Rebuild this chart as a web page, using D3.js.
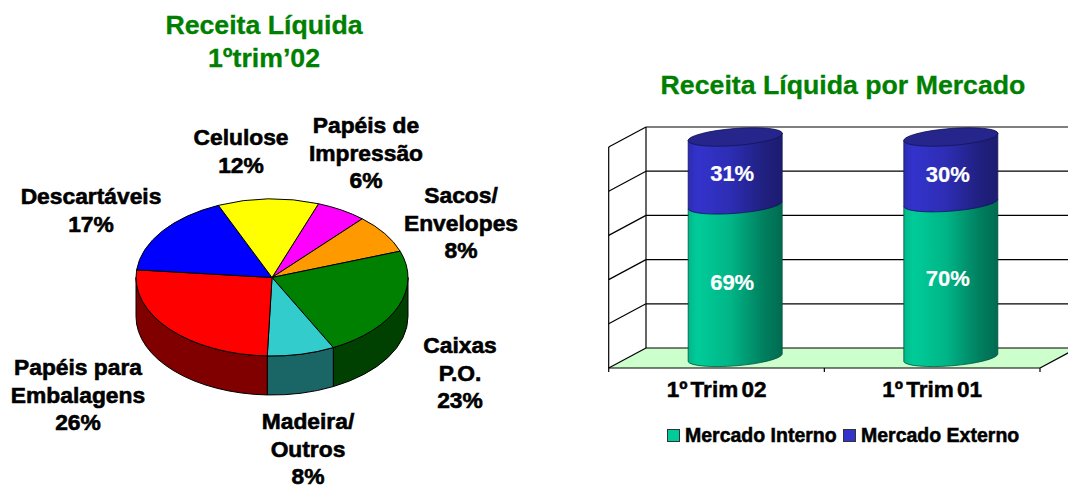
<!DOCTYPE html>
<html>
<head>
<meta charset="utf-8">
<script src="https://cdn.jsdelivr.net/npm/d3@7"></script>
<style>
  html, body { margin: 0; padding: 0; background: #fff; }
  svg { display: block; }
  text { font-family: "Liberation Sans", Arial, sans-serif; font-weight: bold; }
  .title { fill: #008000; font-size: 26.7px; text-anchor: middle; stroke: #008000; stroke-width: 0.3px; }
  .slice-label { fill: #000; font-size: 22.8px; text-anchor: middle; stroke: #000; stroke-width: 0.6px; }
  .value-label { fill: #fff; font-size: 22px; text-anchor: middle; stroke: #fff; stroke-width: 0.2px; }
  .cat-label { fill: #000; font-size: 22.5px; word-spacing: -3px; stroke: #000; stroke-width: 0.5px; }
  .legend-label { fill: #000; font-size: 19.5px; stroke: #000; stroke-width: 0.5px; }
</style>
</head>
<body>
<svg id="chart" width="1068" height="489"></svg>
<script>
// pie data, clockwise from the top right
const sliceNames = ["Papéis de|Impressão", "Sacos/|Envelopes", "Caixas|P.O.", "Madeira/|Outros", "Papéis para|Embalagens", "Descartáveis", "Celulose"];
const sliceValues = [6, 8, 23, 8, 26, 17, 12];
const sliceColors = ["#ff00ff", "#ff9900", "#008000", "#33cccc", "#ff0000", "#0000ff", "#ffff00"];
const sliceSides = ["#800080", "#804c00", "#004000", "#1a6666", "#800000", "#000080", "#808000"];

// bar data
const quarters = ["1º Trim 02", "1º Trim 01"];
const interno = [69, 70];
const externo = [31, 30];
const seriesNames = ["Mercado Interno", "Mercado Externo"];
const gridTicks = [0, 20, 40, 60, 80, 100];

const svg = d3.select("#chart");
const defs = svg.append("defs");

//Titles
svg.append("text").classed("title", true).attr("x", 264).attr("y", 34).text("Receita Líquida");
svg.append("text").classed("title", true).attr("x", 264).attr("y", 67).text("1ºtrim’02");
svg.append("text").classed("title", true).attr("x", 843).attr("y", 94).text("Receita Líquida por Mercado");

function drawPie() {
  const cx = 272, cy = 277.5, rx = 136, ry = 78.5, depth = 39;
  const start = (20 * Math.PI) / 180;
  const pie = d3.pie().sort(null).startAngle(start).endAngle(start + 2 * Math.PI);
  const arcs = pie(sliceValues);
  const px = (a) => cx + rx * Math.sin(a);
  const py = (a) => cy - ry * Math.cos(a);

  //Sides, only the front half of the disc shows
  arcs.forEach((d, i) => {
    const a0 = Math.max(d.startAngle, Math.PI / 2);
    const a1 = Math.min(d.endAngle, (3 * Math.PI) / 2);
    if (a1 <= a0) return;
    const p =
      `M${px(a0)},${py(a0)} A${rx},${ry} 0 0 1 ${px(a1)},${py(a1)} ` +
      `L${px(a1)},${py(a1) + depth} A${rx},${ry} 0 0 0 ${px(a0)},${py(a0) + depth} Z`;
    svg.append("path").attr("d", p).attr("fill", sliceSides[i]).attr("stroke", "#000").attr("stroke-width", 1);
  });

  //Top of the disc
  const arc = d3.arc().innerRadius(0).outerRadius(rx);
  svg
    .append("g")
    .attr("transform", `translate(${cx},${cy}) scale(1,${ry / rx})`)
    .selectAll("path")
    .data(arcs)
    .join("path")
    .attr("d", arc)
    .attr("fill", (d, i) => sliceColors[i])
    .attr("stroke", "#000")
    .attr("stroke-width", 1)
    .attr("vector-effect", "non-scaling-stroke");

  //Labels, x centre and first baseline for each slice
  const labelSpots = [[366, 133], [461, 203], [460, 353], [308, 429], [78, 375], [91, 204], [241, 145]];
  sliceNames.forEach((name, i) => {
    const lines = name.split("|").concat(sliceValues[i] + "%");
    svg
      .append("g")
      .selectAll("text")
      .data(lines)
      .join("text")
      .classed("slice-label", true)
      .attr("x", labelSpots[i][0])
      .attr("y", (d, j) => labelSpots[i][1] + j * 27.5)
      .text((d) => d);
  });
}

function addGradient(id, stops) {
  const g = defs.append("linearGradient").attr("id", id);
  stops.forEach((s) => g.append("stop").attr("offset", s[0]).attr("stop-color", s[1]));
}

function drawBars() {
  const xFront = 608.7, xEnd = 1040, dx = 37.3, dy = 20;
  const x = d3.scaleBand().domain(quarters).range([xFront, xEnd]);
  const y = d3.scaleLinear().domain([0, 100]).range([348, 127]);
  const floorY = y(0);
  const frontY = floorY + dy;

  //Floor
  svg
    .append("polygon")
    .attr("points", [[xFront, frontY], [xFront + dx, floorY], [xEnd + dx, floorY], [xEnd, frontY]].join(" "))
    .attr("fill", "#ccffcc");

  //Grid on the back and side walls
  const grid = svg.append("g").attr("stroke", "#000").attr("stroke-width", 1.2);
  gridTicks.forEach((t) => {
    grid.append("line").attr("x1", xFront + dx).attr("x2", xEnd + dx).attr("y1", y(t)).attr("y2", y(t));
    grid.append("line").attr("x1", xFront).attr("x2", xFront + dx).attr("y1", y(t) + dy).attr("y2", y(t));
  });
  grid.append("line").attr("x1", xFront + dx).attr("x2", xFront + dx).attr("y1", y(100)).attr("y2", floorY);
  grid.append("line").attr("x1", xFront).attr("x2", xFront).attr("y1", y(100) + dy).attr("y2", frontY + 4);
  grid.append("line").attr("x1", xFront).attr("x2", xEnd).attr("y1", frontY).attr("y2", frontY);
  grid.append("line").attr("x1", xEnd).attr("x2", xEnd + dx).attr("y1", frontY).attr("y2", floorY);
  grid.selectAll(".edge-tick")
    .data([x.bandwidth(), 2 * x.bandwidth()])
    .join("line")
    .attr("x1", (d) => xFront + d)
    .attr("x2", (d) => xFront + d)
    .attr("y1", frontY)
    .attr("y2", frontY + 4);

  //Category labels
  const axis = svg
    .append("g")
    .attr("transform", `translate(0,${frontY + 7})`)
    .call(d3.axisBottom(x).tickSize(0));
  axis.select(".domain").remove();
  axis.selectAll("text").attr("class", "cat-label").attr("dy", "0.85em");
  axis.attr("font-size", null).attr("font-family", null);

  addGradient("teal", [[0, "#00b88a"], [0.1, "#00cc99"], [0.45, "#00b587"], [0.8, "#00805f"], [1, "#006b50"]]);
  addGradient("blue", [[0, "#2c2cb4"], [0.1, "#3333cc"], [0.45, "#2d2db4"], [0.8, "#202080"], [1, "#1c1c70"]]);

  const rx = 47.3, ry = 8.5, rot = -4.5, tilt = 3.75, halfW = 47;
  // hand nudges of the value labels, they don't sit exactly mid piece in the original
  const internoNudge = [8, 5];
  const externoNudge = [10, 12];

  // one stacked cylinder piece between two values, bottom rim bulging down
  function piece(cxBar, v0, v1) {
    const yb = y(v0) + 10;
    const yt = y(v1) + 10;
    return (
      `M${cxBar - halfW},${yt + tilt} L${cxBar - halfW},${yb + tilt} ` +
      `A${rx},${ry} ${rot} 0 0 ${cxBar + halfW},${yb - tilt} ` +
      `L${cxBar + halfW},${yt - tilt} A${rx},${ry} ${rot} 0 0 ${cxBar - halfW},${yt + tilt} Z`
    );
  }

  quarters.forEach((q, i) => {
    const cxBar = x(q) + x.bandwidth() / 2 + dx / 2;
    const total = interno[i] + externo[i];
    svg.append("path").attr("d", piece(cxBar, 0, interno[i])).attr("fill", "url(#teal)").attr("stroke", "#00503c").attr("stroke-width", 0.8);
    svg.append("path").attr("d", piece(cxBar, interno[i], total)).attr("fill", "url(#blue)").attr("stroke", "#14145a").attr("stroke-width", 0.8);
    svg
      .append("ellipse")
      .attr("cx", 0)
      .attr("cy", 0)
      .attr("rx", rx)
      .attr("ry", ry)
      .attr("transform", `translate(${cxBar},${y(total) + 10}) rotate(${rot})`)
      .attr("fill", "#25258c")
      .attr("stroke", "#14145a")
      .attr("stroke-width", 0.8);

    svg.append("text").classed("value-label", true).attr("x", cxBar - 3).attr("y", y(interno[i] / 2) + 10 + internoNudge[i]).text(interno[i] + "%");
    svg.append("text").classed("value-label", true).attr("x", cxBar - 3).attr("y", y(interno[i] + externo[i] / 2) + 10 + externoNudge[i]).text(externo[i] + "%");
  });

  //Legend
  const legendX = [667.5, 843.5];
  const legendFill = ["#00cc99", "#3333cc"];
  seriesNames.forEach((name, i) => {
    svg.append("rect").attr("x", legendX[i]).attr("y", 429.5).attr("width", 12).attr("height", 12).attr("fill", legendFill[i]).attr("stroke", "#333").attr("stroke-width", 1);
    svg.append("text").classed("legend-label", true).attr("x", legendX[i] + 17.5).attr("y", 442).text(name);
  });
}

drawPie();
drawBars();
</script>
</body>
</html>
